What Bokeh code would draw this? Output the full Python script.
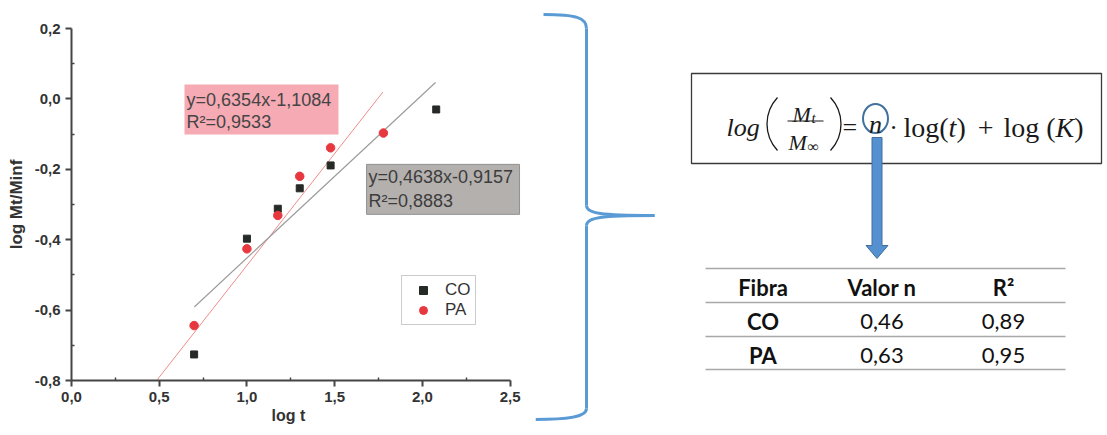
import numpy as np
from bokeh.plotting import figure
from bokeh.layouts import row
from bokeh.models import (Range1d, Title, Legend, LegendItem,
                          CustomJSTickFormatter, FixedTicker)
from bokeh.core.properties import value
from bokeh.embed import file_html
from bokeh.resources import INLINE

# ---------------- data ----------------
log_t_co = [0.699, 1.000, 1.176, 1.301, 1.477, 2.079]
log_m_co = [-0.726, -0.397, -0.312, -0.254, -0.189, -0.030]
log_t_pa = [0.699, 1.000, 1.176, 1.301, 1.477, 1.778]
log_m_pa = [-0.644, -0.426, -0.331, -0.220, -0.139, -0.097]

fit_co_slope, fit_co_icpt = 0.4638, -0.9157
fit_pa_slope, fit_pa_icpt = 0.6354, -1.1084
fit_co_x = [0.70, 2.075]
fit_pa_x = [0.49, 1.775]

eq_pa = ["y=0,6354x-1,1084", "R²=0,9533"]
eq_co = ["y=0,4638x-0,9157", "R²=0,8883"]

x_ticks = [0.0, 0.5, 1.0, 1.5, 2.0, 2.5]
x_minor = [0.25, 0.75, 1.25, 1.75, 2.25]
y_ticks = [-0.8, -0.6, -0.4, -0.2, 0.0, 0.2]
y_minor = [-0.7, -0.5, -0.3, -0.1, 0.1]

table_header = ["Fibra", "Valor n", "R²"]
table_fibra = ["CO", "PA"]
table_n = ["0,46", "0,63"]
table_r2 = ["0,89", "0,95"]

SANS = value("Liberation Sans")
SERIF = value("Liberation Serif")
TBL = value("Lato")

# ---------------- left: scatter chart ----------------
p = figure(width=535, height=435, x_range=Range1d(0, 2.645), y_range=Range1d(-0.8, 0.2),
           output_backend="svg", toolbar_location=None,
           min_border_left=71, min_border_right=0, min_border_top=28, min_border_bottom=55)
p.frame_align = False
p.outline_line_color = None
p.grid.visible = False
p.background_fill_color = "white"

fmt = CustomJSTickFormatter(code="var s = tick.toFixed(1); if (s == '-0.0') s = '0.0'; return s.replace('.', ',');")
p.xaxis.ticker = FixedTicker(ticks=x_ticks, minor_ticks=x_minor)
p.yaxis.ticker = FixedTicker(ticks=y_ticks, minor_ticks=y_minor)
p.xaxis.bounds = (0, 2.5)
for ax in (p.xaxis[0], p.yaxis[0]):
    ax.formatter = fmt
    ax.axis_line_width = 2
    ax.axis_line_color = "#454545"
    ax.major_tick_line_color = "#454545"
    ax.major_tick_line_width = 2
    ax.major_tick_out = 6
    ax.major_tick_in = 0
    ax.minor_tick_line_color = "#454545"
    ax.minor_tick_line_width = 1.5
    ax.minor_tick_in = 3
    ax.minor_tick_out = 0
    ax.major_label_text_font = "Liberation Sans"
    ax.major_label_text_font_style = "bold"
    ax.major_label_text_font_size = "15px"
    ax.major_label_text_color = "#333333"
    ax.major_label_standoff = 5

p.yaxis.axis_label = "log Mt/Minf"
p.yaxis.axis_label_text_font = "Liberation Sans"
p.yaxis.axis_label_text_font_style = "bold"
p.yaxis.axis_label_text_font_size = "17px"
p.yaxis.axis_label_text_color = "#333333"
p.yaxis.axis_label_standoff = 6

p.add_layout(Title(text="log t", align="left", offset=200, standoff=0, vertical_align="bottom",
                   text_font="Liberation Sans", text_font_style="bold",
                   text_font_size="16px", text_color="#333333"), "below")

# equation boxes
p.quad(left=[0.644], right=[1.522], top=[0.041], bottom=[-0.101],
       fill_color="#f5aab4", line_color=None)
p.quad(left=[1.682], right=[2.554], top=[-0.186], bottom=[-0.328],
       fill_color="#b4b0ae", line_color="#909090", line_width=1)
p.text(x=[0.656, 0.656], y=[-0.0045, -0.067], text=eq_pa, text_font=SANS,
       text_font_size="18px", text_color="#454545", text_baseline="middle", text_align="left")
p.text(x=[1.693, 1.693], y=[-0.223, -0.289], text=eq_co, text_font=SANS,
       text_font_size="18px", text_color="#3c3c3c", text_baseline="middle", text_align="left")

# fitted lines
p.line(fit_pa_x, [fit_pa_slope * x + fit_pa_icpt for x in fit_pa_x], line_color="#ee8c8c", line_width=1)
p.line(fit_co_x, [fit_co_slope * x + fit_co_icpt for x in fit_co_x], line_color="#9c9c9c", line_width=1.2)

r_co = p.scatter(log_t_co, log_m_co, marker="square", size=7,
                 fill_color="#262a27", line_color="#262a27")
r_pa = p.scatter(log_t_pa, log_m_pa, marker="circle", size=8.5,
                 fill_color="#e8383f", line_color="#e8383f")

legend = Legend(items=[LegendItem(label="CO", renderers=[r_co]),
                       LegendItem(label="PA", renderers=[r_pa])],
                location=(330, 55), padding=4, spacing=0, margin=0,
                glyph_width=34, glyph_height=20, label_height=20, label_standoff=5,
                label_text_font="Liberation Sans", label_text_font_size="17px",
                label_text_color="#333333", border_line_color="#999999",
                border_line_width=1.5, background_fill_color="white", background_fill_alpha=1)
p.add_layout(legend)

# ---------------- right: brace, formula, table ----------------
q = figure(width=572, height=435, x_range=Range1d(535, 1107), y_range=Range1d(435, 0),
           output_backend="svg", toolbar_location=None, min_border=0,
           x_axis_type=None, y_axis_type=None)
q.frame_align = False
q.outline_line_color = None
q.grid.visible = False

BLUE = "#5b9bd5"
q.bezier(x0=[543, 586, 654, 586], y0=[14, 205, 215, 408],
         x1=[586, 654, 586, 535], y1=[28, 215, 225, 419],
         cx0=[575, 586, 600, 586], cy0=[14, 213, 215, 417],
         cx1=[586, 600, 586, 565], cy1=[17, 215, 217, 419],
         line_color=BLUE, line_width=3)
q.segment(x0=[586, 586], y0=[28, 225], x1=[586, 586], y1=[205, 408],
          line_color=BLUE, line_width=3)

# formula box
q.quad(left=[691], right=[1101], top=[73], bottom=[163], fill_color=None,
       line_color="#3a3a3a", line_width=1.3)

INK = "#1a1a1a"
q.text(x=[726], y=[127], text=["log"], text_font=SERIF, text_font_style="italic",
       text_font_size="26px", text_color=INK, text_baseline="alphabetic")
q.bezier(x0=[777, 830], y0=[97, 97], x1=[777, 830], y1=[150, 150],
         cx0=[763, 844], cy0=[112, 112], cx1=[763, 844], cy1=[135, 135],
         line_color=INK, line_width=1.3)
q.segment(x0=[787], y0=[120.5], x1=[823], y1=[120.5], line_color=INK, line_width=1.2)
q.text(x=[792, 788], y=[114, 142], text=["M", "M"], text_font=SERIF, text_font_style="italic",
       text_font_size="22px", text_color=INK, text_baseline="alphabetic")
q.text(x=[811], y=[117], text=["t"], text_font=SERIF, text_font_style="italic",
       text_font_size="15px", text_color=INK, text_baseline="alphabetic")
q.text(x=[807], y=[146], text=["∞"], text_font=SERIF,
       text_font_size="16px", text_color=INK, text_baseline="alphabetic")
q.text(x=[842], y=[127], text=["="], text_font=SERIF, text_font_size="26px",
       text_color=INK, text_baseline="alphabetic")
q.ellipse(x=[875], y=[118], width=[25], height=[29], fill_color=None,
          line_color="#41719c", line_width=2)
q.text(x=[875], y=[124], text=["n"], text_font=SERIF, text_font_style="italic",
       text_font_size="26px", text_color=INK, text_baseline="alphabetic", text_align="center")
q.text(x=[893], y=[127], text=["·"], text_font=SERIF, text_font_size="26px",
       text_color=INK, text_baseline="alphabetic", text_align="center")

TW = {'l': 0.278, 'o': 0.5, 'g': 0.5, '(': 0.333, ')': 0.333, '+': 0.564,
      't': 0.278, 'K': 0.667}
pieces = [("log(", "normal", 0), ("t", "italic", 0), (")", "normal", 0),
          ("+", "normal", 12), ("log", "normal", 10), ("(", "normal", 7),
          ("K", "italic", 0), (")", "normal", 0)]
fs = 28
cx = 903.0
for s, st, gap in pieces:
    cx += gap
    q.text(x=[cx], y=[127], text=[s], text_font=SERIF, text_font_style=st,
           text_font_size=f"{fs}px", text_color=INK, text_baseline="alphabetic")
    cx += sum(TW[c] for c in s) * fs

# arrow
ax_c = 876.5
q.patch(x=[ax_c - 5, ax_c + 5, ax_c + 5, ax_c + 11, ax_c, ax_c - 11, ax_c - 5],
        y=[137, 137, 245, 245, 258, 245, 245],
        fill_color="#5590d0", line_color="#41719c", line_width=1)

# table
q.segment(x0=[705] * 4, x1=[1065] * 4, y0=[268, 302, 336, 369], y1=[268, 302, 336, 369],
          line_color="#a8a8a8", line_width=1.5)
col_x = [762.5, 881.5, 1003]
q.text(x=col_x, y=[287] * 3, text=table_header, text_font=TBL, text_font_style="bold",
       text_font_size="22px", text_color="#111111", text_align="center", text_baseline="middle")
q.text(x=[col_x[0]] * 2, y=[321, 355], text=table_fibra, text_font=TBL, text_font_style="bold",
       text_font_size="22px", text_color="#111111", text_align="center", text_baseline="middle")
q.text(x=[col_x[1]] * 2, y=[321, 355], text=table_n, text_font=TBL,
       text_font_size="22px", text_color="#111111", text_align="center", text_baseline="middle")
q.text(x=[col_x[2]] * 2, y=[321, 355], text=table_r2, text_font=TBL,
       text_font_size="22px", text_color="#111111", text_align="center", text_baseline="middle")

layout = row(p, q)
open("out.html", "w").write(file_html(layout, INLINE))
